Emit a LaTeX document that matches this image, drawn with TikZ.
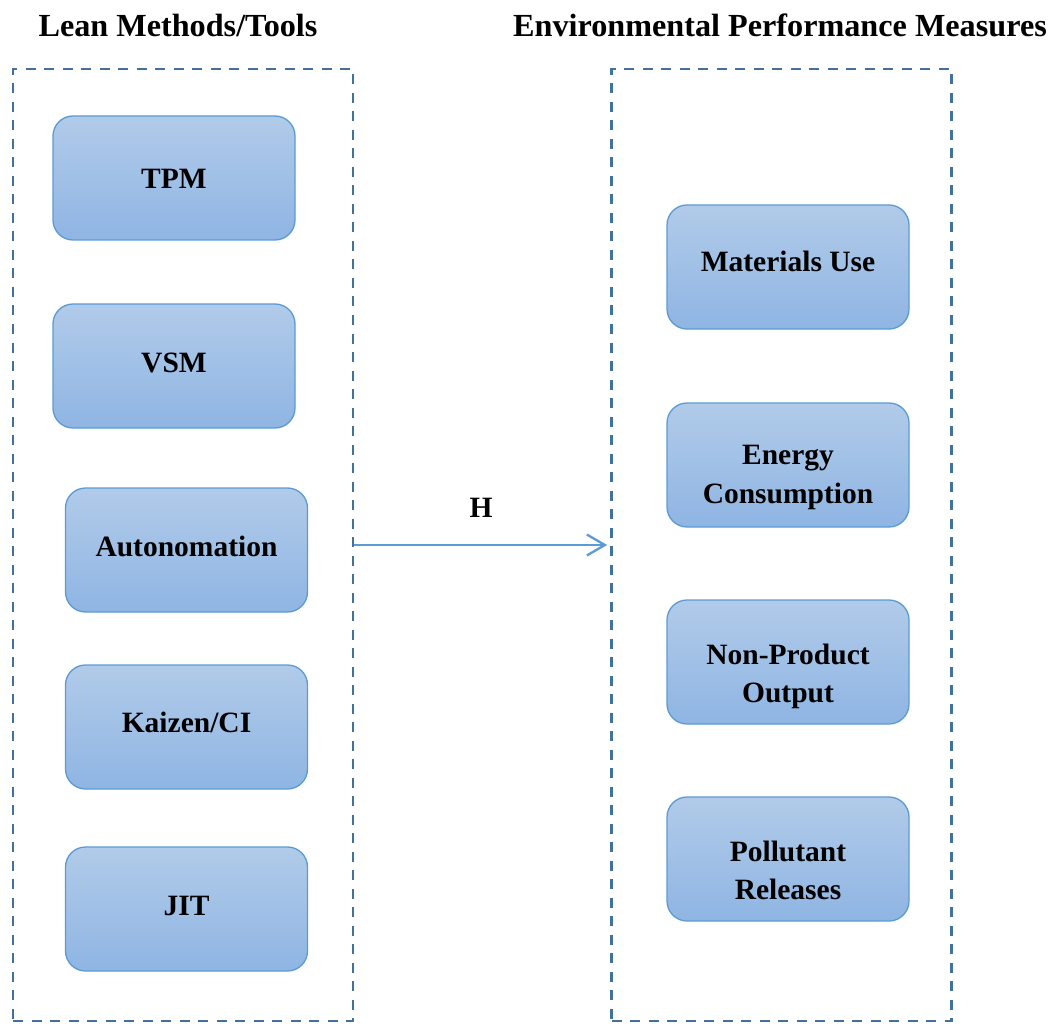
\documentclass[tikz,border=0pt]{standalone}
\usepackage{fontspec}
\setmainfont{Liberation Serif}
\usetikzlibrary{arrows.meta}
\definecolor{frameblue}{HTML}{41719C}
\definecolor{boxedge}{HTML}{5B9BD5}
\definecolor{boxtop}{HTML}{B1CBE9}
\definecolor{boxbot}{HTML}{8FB5E3}
\definecolor{arrowblue}{HTML}{5B9BD5}
\tikzset{
  frame/.style={draw=frameblue, line width=2.7pt, dash pattern=on 10pt off 8.5pt, minimum width=340pt, minimum height=952pt, inner sep=0pt},
  itembox/.style={draw=boxedge, line width=1.3pt, rounded corners=20pt, top color=boxtop, bottom color=boxbot,
    minimum width=242pt, minimum height=124pt, inner sep=0pt},
  itemtext/.style={anchor=base, inner sep=0pt, font=\fontsize{29.5}{37}\selectfont\bfseries},
  titletext/.style={font=\fontsize{32.2}{38}\selectfont\bfseries, inner sep=0pt},
  link/.style={draw=arrowblue, line width=2.3pt, -{Straight Barb[length=18pt,width=21pt,line width=2.3pt]}}
}
\begin{document}
\begin{tikzpicture}[x=1pt,y=-1pt]
\useasboundingbox (0,0) rectangle (1052,1024);
\node[titletext] (t1) at (178,25) {Lean Methods/Tools};
\node[titletext] (t2) at (780,25) {Environmental Performance Measures};
\node[frame] (L) at (183,545) {};
\node[frame] (R) at (781.5,545) {};
% left boxes
\node[itembox] (tpm) at (174,178) {};
\node[itembox] (vsm) at (174,366) {};
\node[itembox] (auto) at (186.5,550) {};
\node[itembox] (kai) at (186.5,727) {};
\node[itembox] (jit) at (186.5,909) {};
\node[itemtext] (tpmT) at (174,188.5) {TPM};
\node[itemtext] (vsmT) at (174,372.5) {VSM};
\node[itemtext] (autoT) at (186.5,556) {Autonomation};
\node[itemtext] (kaiT) at (186.5,732.5) {Kaizen/CI};
\node[itemtext] (jitT) at (186.5,915) {JIT};
% right boxes
\node[itembox] (mat) at (788,267) {};
\node[itembox] (ene) at (788,465) {};
\node[itembox] (npo) at (788,662) {};
\node[itembox] (pol) at (788,859) {};
\node[itemtext] (matT) at (788,272) {Materials Use};
\node[itemtext] (eneA) at (788,464.5) {Energy};
\node[itemtext] (eneB) at (788,503.5) {Consumption};
\node[itemtext] (npoA) at (788,664) {Non-Product};
\node[itemtext] (npoB) at (788,702.5) {Output};
\node[itemtext] (polA) at (788,861) {Pollutant};
\node[itemtext] (polB) at (788,899.5) {Releases};
% connector
\draw[link, shorten >=3pt] (L.east) -- (R.west);
\node[font=\fontsize{29.5}{33}\selectfont\bfseries, inner sep=0pt] (h) at (481,508) {H};
\end{tikzpicture}
\end{document}
